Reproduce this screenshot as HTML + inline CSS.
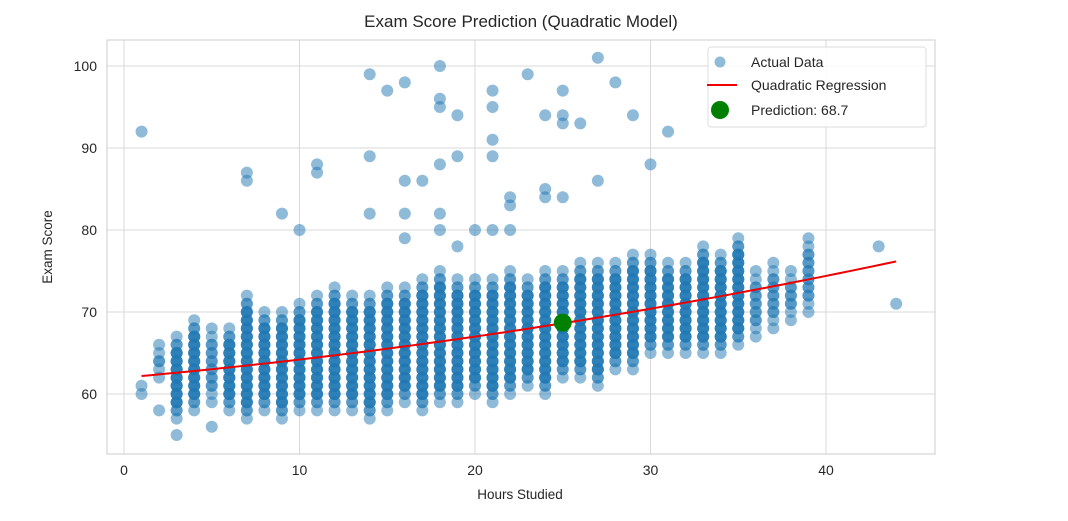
<!DOCTYPE html>
<html><head><meta charset="utf-8">
<style>
body{margin:0;background:#fff;width:1068px;height:516px;overflow:hidden;font-family:"Liberation Sans",sans-serif}
</style></head>
<body>
<svg id="chart" width="1068" height="516" xmlns="http://www.w3.org/2000/svg">
<text x="521" y="27" font-size="17" text-anchor="middle" fill="#262626">Exam Score Prediction (Quadratic Model)</text>
<text x="520" y="499" font-size="13.5" text-anchor="middle" fill="#262626">Hours Studied</text>
<text x="52" y="247" font-size="13.5" text-anchor="middle" fill="#262626" transform="rotate(-90 52 247)">Exam Score</text>
<g id="grid"></g><g id="pts"></g><g id="fit"></g><g id="ticks"></g>
<rect x="107" y="40" width="828" height="414" fill="none" stroke="#ccc" stroke-width="1"/>
<g>
<rect x="708" y="47" width="218" height="80" rx="3" fill="#fff" fill-opacity="0.85" stroke="#ddd"/>
<circle cx="720" cy="62" r="5.5" fill="#1f77b4" fill-opacity="0.5"/>
<text x="751" y="67" font-size="14" fill="#262626">Actual Data</text>
<line x1="707" y1="85" x2="737" y2="85" stroke="#ee0000" stroke-width="2"/>
<text x="751" y="90" font-size="14" fill="#262626">Quadratic Regression</text>
<circle cx="720" cy="110" r="9" fill="#008000"/>
<text x="751" y="115" font-size="14" fill="#262626">Prediction: 68.7</text>
</g>
</svg>
<script>
const hours=[1,2,3,4,5,6,7,8,9,10,11,12,13,14,15,16,17,18,19,20,21,22,23,24,25,26,27,28,29,30,31,32,33,34,35,36,37,38,39];
const mins=[60,62,57,58,59,58,57,58,57,58,58,58,58,57,58,59,58,59,59,60,59,60,61,60,62,62,61,63,63,65,65,65,65,65,66,67,68,69,70];
const maxs=[61,66,67,69,68,68,72,70,70,71,72,73,72,72,73,73,74,75,74,74,74,75,74,75,75,76,76,76,77,77,76,76,78,77,79,75,76,75,79];
const outX=[1,2,3,5,7,7,9,10,11,11,14,14,14,15,16,16,16,16,17,18,18,18,18,18,18,19,19,19,20,21,21,21,21,21,22,22,22,23,24,24,24,25,25,25,25,26,27,27,28,29,30,31,43,44];
const outY=[92,58,55,56,86,87,82,80,87,88,82,89,99,97,79,82,86,98,86,80,82,88,95,96,100,78,89,94,80,80,89,91,95,97,80,83,84,99,84,85,94,84,93,94,97,93,86,101,98,94,88,92,78,71];
const coef=[62.0,0.19,0.003];
const predX=[25], predY=[68.7];
const xTicks=[0,10,20,30,40], yTicks=[60,70,80,90,100];
const X=v=>124+v*17.55, Y=v=>394-(v-60)*8.2;
const NS="http://www.w3.org/2000/svg";
function mk(p,t,a){const e=document.createElementNS(NS,t);for(const k in a)e.setAttribute(k,a[k]);p.appendChild(e);return e;}
const grid=document.getElementById('grid'),ticks=document.getElementById('ticks'),pts=document.getElementById('pts'),fit=document.getElementById('fit');
xTicks.forEach(t=>{const l=mk(grid,'line',{x1:X(t),x2:X(t),y1:40,y2:454,stroke:'#d9d9d9'});


const tx=mk(ticks,'text',{x:X(t),y:475,'font-size':14,'text-anchor':'middle',fill:'#262626'});tx.textContent=t;

});
yTicks.forEach(t=>{const l=mk(grid,'line',{x1:107,x2:935,y1:Y(t),y2:Y(t),stroke:'#d9d9d9'});


const tx=mk(ticks,'text',{x:97,y:Y(t)+5,'font-size':14,'text-anchor':'end',fill:'#262626'});tx.textContent=t;

});
hours.forEach((h,i)=>{const span=maxs[i]-mins[i];for(let s=mins[i];s<=maxs[i];s++){
const inner=Math.min(s-mins[i],maxs[i]-s);
const reps=span>=10?(inner>=2?4:(inner>=1?2:1)):(inner>=2?2:1);
for(let r=0;r<reps;r++){const c=mk(pts,'circle',{cx:X(h),cy:Y(s),r:6,fill:'#1f77b4','fill-opacity':0.5});

}}});
outX.forEach((h,i)=>{const c=mk(pts,'circle',{cx:X(h),cy:Y(outY[i]),r:6,fill:'#1f77b4','fill-opacity':0.5});

});
let d='';for(let x=1;x<=44;x+=0.5){const y=coef[0]+coef[1]*x+coef[2]*x*x;d+=(d?'L':'M')+X(x)+','+Y(y);}
const p=mk(fit,'path',{d:d,stroke:'#ee0000','stroke-width':2,fill:'none'});


predX.forEach((x,i)=>{const c=mk(fit,'circle',{cx:X(x),cy:Y(predY[i]),r:9,fill:'#008000'});

});
</script>
</body></html>
